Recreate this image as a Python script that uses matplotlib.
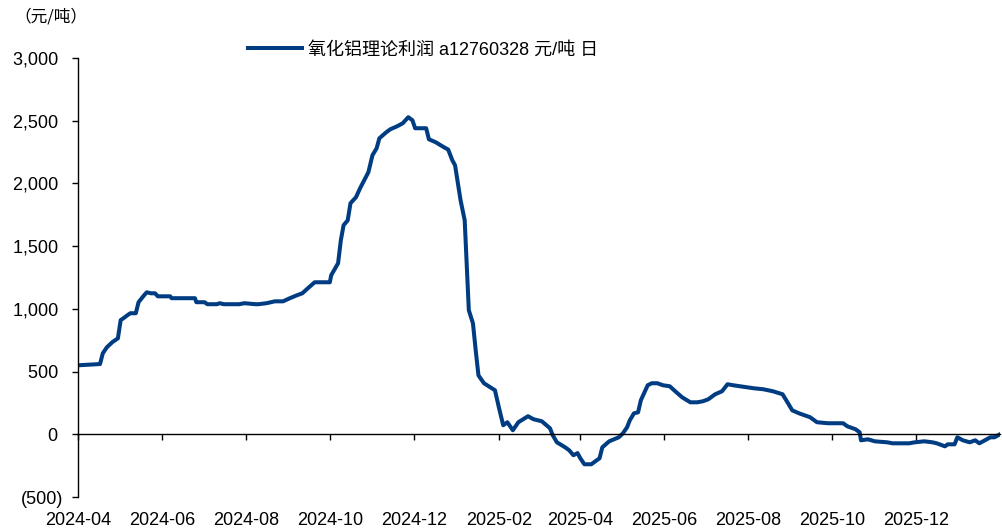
import matplotlib
matplotlib.use("Agg")
import matplotlib.pyplot as plt
import matplotlib.dates as mdates
from matplotlib.ticker import FuncFormatter
import pandas as pd

dates = [
    "2024-04-01", "2024-04-17", "2024-04-19", "2024-04-22", "2024-04-26", "2024-04-30",
    "2024-05-02", "2024-05-04", "2024-05-07", "2024-05-09", "2024-05-13", "2024-05-15",
    "2024-05-19", "2024-05-21", "2024-05-24", "2024-05-27", "2024-05-29", "2024-06-07",
    "2024-06-08", "2024-06-25", "2024-06-26", "2024-07-02", "2024-07-04", "2024-07-11",
    "2024-07-13", "2024-07-16", "2024-07-27", "2024-07-31", "2024-08-08", "2024-08-10",
    "2024-08-16", "2024-08-22", "2024-08-28", "2024-09-02", "2024-09-07", "2024-09-11",
    "2024-09-15", "2024-09-20", "2024-10-01", "2024-10-02", "2024-10-07", "2024-10-09",
    "2024-10-11", "2024-10-14", "2024-10-16", "2024-10-20", "2024-10-23", "2024-10-26",
    "2024-10-29", "2024-11-01", "2024-11-04", "2024-11-06", "2024-11-11", "2024-11-14",
    "2024-11-19", "2024-11-23", "2024-11-27", "2024-11-30", "2024-12-02", "2024-12-10",
    "2024-12-12", "2024-12-17", "2024-12-23", "2024-12-26", "2024-12-29", "2024-12-31",
    "2025-01-04", "2025-01-07", "2025-01-10", "2025-01-13", "2025-01-15", "2025-01-17",
    "2025-01-21", "2025-01-29", "2025-02-01", "2025-02-04", "2025-02-07", "2025-02-11",
    "2025-02-15", "2025-02-22", "2025-02-26", "2025-03-04", "2025-03-10", "2025-03-12",
    "2025-03-15", "2025-03-21", "2025-03-24", "2025-03-27", "2025-03-30", "2025-04-01",
    "2025-04-04", "2025-04-09", "2025-04-15", "2025-04-17", "2025-04-22", "2025-04-29",
    "2025-05-02", "2025-05-05", "2025-05-07", "2025-05-10", "2025-05-13", "2025-05-15",
    "2025-05-20", "2025-05-23", "2025-05-27", "2025-05-31", "2025-06-05", "2025-06-09",
    "2025-06-14", "2025-06-20", "2025-06-25", "2025-06-29", "2025-07-03", "2025-07-08",
    "2025-07-13", "2025-07-17", "2025-07-21", "2025-07-26", "2025-07-31", "2025-08-05",
    "2025-08-12", "2025-08-19", "2025-08-26", "2025-08-30", "2025-09-02", "2025-09-07",
    "2025-09-15", "2025-09-20", "2025-09-28", "2025-10-09", "2025-10-12", "2025-10-18",
    "2025-10-21", "2025-10-22", "2025-10-27", "2025-11-01", "2025-11-10", "2025-11-14",
    "2025-11-26", "2025-11-30", "2025-12-07", "2025-12-13", "2025-12-16", "2025-12-22",
    "2025-12-24", "2025-12-29", "2025-12-31", "2026-01-04", "2026-01-09", "2026-01-13",
    "2026-01-16", "2026-01-20", "2026-01-24", "2026-01-27", "2026-01-31",
]
profit = [
    550, 560, 645, 694, 735, 765,
    910, 925, 950, 965, 965, 1053,
    1108, 1132, 1124, 1124, 1100, 1100,
    1085, 1085, 1053, 1053, 1037, 1037,
    1045, 1037, 1037, 1045, 1037, 1037,
    1045, 1060, 1060, 1085, 1108, 1124,
    1164, 1212, 1212, 1268, 1364, 1547,
    1667, 1706, 1842, 1890, 1962, 2025,
    2089, 2225, 2280, 2360, 2408, 2432,
    2456, 2480, 2528, 2504, 2440, 2440,
    2352, 2328, 2288, 2270, 2185, 2145,
    1866, 1706, 989, 885, 670, 470,
    407, 351, 207, 72, 96, 32,
    96, 144, 120, 104, 48, -8,
    -64, -104, -128, -167, -150, -191,
    -239, -239, -191, -104, -56, -24,
    8, 56, 112, 167, 175, 271,
    391, 407, 407, 391, 383, 343,
    295, 255, 255, 263, 279, 319,
    343, 399, 391, 383, 375, 367,
    359, 343, 319, 247, 191, 167,
    136, 96, 88, 88, 64, 40,
    16, -48, -40, -56, -64, -72,
    -72, -64, -56, -64, -72, -96,
    -80, -80, -24, -48, -64, -48,
    -72, -48, -24, -24, 0,
]
series_label = "氧化铝理论利润 a12760328 元/吨 日"
unit_label = "（元/吨）"
y_ticks = [-500, 0, 500, 1000, 1500, 2000, 2500, 3000]

LATIN = "Liberation Sans"
CJK = "Noto Sans CJK SC"
plt.rcParams["font.family"] = [LATIN, CJK, "DejaVu Sans"]

x = pd.to_datetime(dates)

fig = plt.figure(figsize=(10.03, 5.29), dpi=100)
ax = fig.add_axes([78 / 1003, 1 - 497 / 529, 922 / 1003, (497 - 58) / 529])

color = "#003C82"
ax.plot(x, profit, color=color, lw=2.9, solid_joinstyle="round", label=series_label)

ax.set_ylim(-500, 3000)
ax.set_yticks(y_ticks)
ax.set_xlim(pd.Timestamp("2024-04-01"), pd.Timestamp("2026-01-31"))

def yfmt(v, pos):
    if v < 0:
        return f"({abs(v):,.0f})"
    return f"{v:,.0f} "
ax.yaxis.set_major_formatter(FuncFormatter(yfmt))

ax.xaxis.set_major_locator(mdates.MonthLocator(bymonth=[2, 4, 6, 8, 10, 12]))
ax.xaxis.set_major_formatter(mdates.DateFormatter("%Y-%m"))

for s in ["top", "right"]:
    ax.spines[s].set_visible(False)
ax.spines["bottom"].set_position(("data", 0))
ax.spines["bottom"].set_linewidth(1.0)
ax.spines["left"].set_linewidth(1.0)

ax.tick_params(axis="y", direction="out", length=4.5, width=1.0, pad=6, labelsize=13)
ax.tick_params(axis="x", direction="out", length=4, width=1.0, pad=52, labelsize=13)

leg = ax.legend(loc="center left", bbox_to_anchor=(232 / 1003, 1 - 50 / 529),
                bbox_transform=fig.transFigure, frameon=False, fontsize=13,
                handlelength=3.0, handletextpad=0.3)

fig.text(14 / 1003, 1 - 17 / 529, unit_label, fontsize=12, va="center", ha="left",
         family=[CJK, LATIN])

fig.savefig("out.png", dpi=100)
